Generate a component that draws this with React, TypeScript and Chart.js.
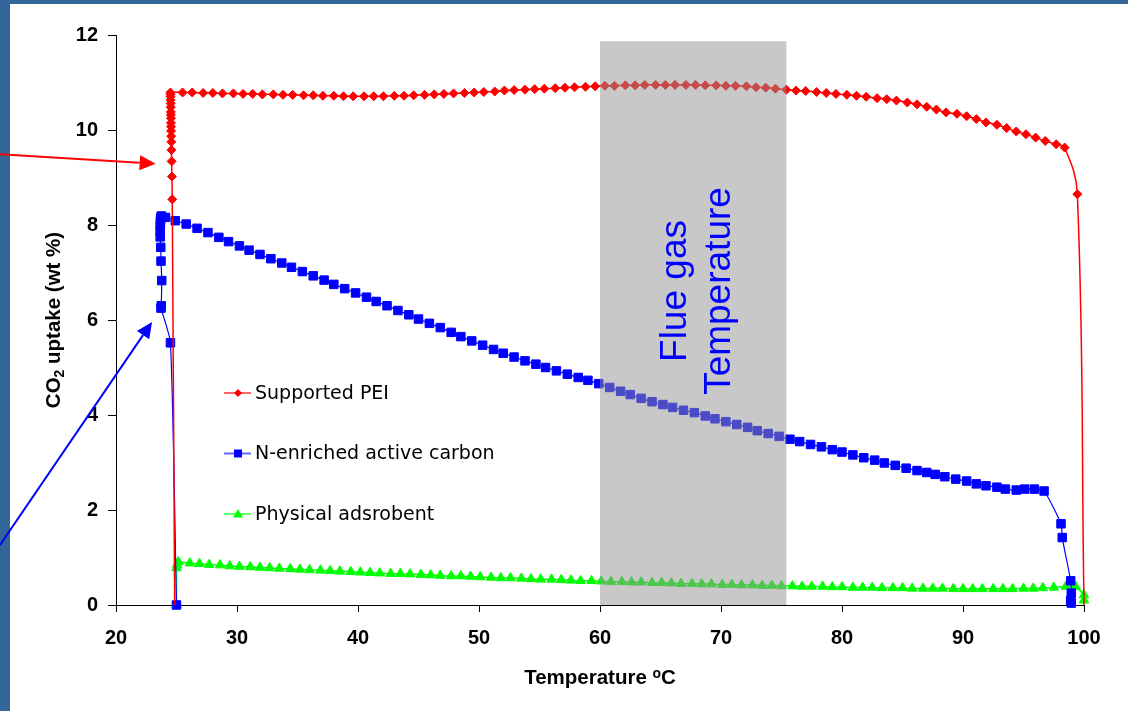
import React, { useEffect, useRef } from "react";
import { Chart, registerables } from "chart.js";

Chart.register(...registerables);

// ---------------- DATA ----------------
const SERIES_NAMES = ["Supported PEI", "N-enriched active carbon", "Physical adsrobent"];

// Supported PEI (first and last points carry no marker)
const PEI_X = [
  24.85, 24.65, 24.62, 24.6, 24.58, 24.57, 24.56, 24.55, 24.55, 24.54, 24.54, 24.53, 24.53, 24.52, 24.52, 24.51, 24.51, 24.5, 24.5,
  25.5, 26.3, 27.2, 28.0, 28.8, 29.7, 30.5, 31.3, 32.1, 33.0, 33.8, 34.6, 35.5, 36.3, 37.1, 38.0, 38.8, 39.6,
  40.5, 41.3, 42.1, 43.0, 43.8, 44.6, 45.5, 46.3, 47.1, 47.9, 48.8, 49.6, 50.4, 51.3, 52.1, 52.9, 53.8, 54.6,
  55.4, 56.3, 57.1, 57.9, 58.8, 59.6, 60.4, 61.2, 62.1, 62.9, 63.7, 64.6, 65.4, 66.2, 67.1, 67.9, 68.7, 69.6,
  70.4, 71.2, 72.1, 72.9, 73.7, 74.5, 75.4, 76.2, 77.0, 77.9, 78.7, 79.5, 80.4, 81.2, 82.0, 82.9, 83.7, 84.5,
  85.4, 86.2, 87.0, 87.8, 88.6, 89.5, 90.3, 91.1, 91.9, 92.8, 93.6, 94.4, 95.2, 96.0, 96.8, 97.7, 98.4,
  99.45, 100.0,
];
const PEI_Y = [
  0, 8.54, 9.02, 9.34, 9.58, 9.75, 9.87, 9.98, 10.07, 10.15, 10.25, 10.32, 10.38, 10.48, 10.56, 10.63, 10.7, 10.75, 10.79,
  10.79, 10.79, 10.78, 10.78, 10.77, 10.77, 10.76, 10.76, 10.75, 10.75, 10.74, 10.74, 10.73, 10.73, 10.72, 10.72, 10.71, 10.71,
  10.71, 10.71, 10.71, 10.72, 10.72, 10.73, 10.74, 10.75, 10.76, 10.77, 10.78, 10.79, 10.8, 10.81, 10.83, 10.84, 10.85, 10.86,
  10.87, 10.88, 10.89, 10.9, 10.91, 10.92, 10.93, 10.93, 10.94, 10.94, 10.95, 10.95, 10.95, 10.95, 10.95, 10.95, 10.94, 10.94,
  10.93, 10.93, 10.92, 10.9, 10.89, 10.87, 10.85, 10.83, 10.82, 10.8, 10.78, 10.76, 10.74, 10.72, 10.7, 10.67, 10.65, 10.62,
  10.58, 10.54, 10.49, 10.43, 10.37, 10.34, 10.29, 10.23, 10.16, 10.11, 10.04, 9.97, 9.91, 9.84, 9.77, 9.7, 9.63,
  8.65, 0,
];

// N-enriched active carbon
const NAC_X = [
  25.0, 24.5, 23.72, 23.74, 23.78, 23.72, 23.7, 23.65, 23.65, 23.66, 23.67, 23.68, 23.7, 23.75, 24.09,
  24.9, 25.8, 26.7, 27.6, 28.5, 29.3, 30.2, 31.0, 31.9, 32.8, 33.7, 34.5, 35.4, 36.3, 37.2, 38.0, 38.9, 39.8,
  40.7, 41.5, 42.4, 43.3, 44.2, 45.0, 45.9, 46.8, 47.7, 48.5, 49.4, 50.3, 51.2, 52.0, 52.9, 53.8, 54.7,
  55.5, 56.4, 57.3, 58.2, 59.0, 59.9, 60.8, 61.7, 62.5, 63.4, 64.3, 65.2, 66.0, 66.9, 67.8, 68.7, 69.5,
  70.4, 71.3, 72.2, 73.0, 73.9, 74.8, 75.7, 76.5, 77.4, 78.3, 79.2, 80.0, 80.9, 81.8, 82.7, 83.5, 84.4,
  85.3, 86.2, 87.0, 87.7, 88.5, 89.4, 90.3, 91.1, 91.9, 92.8, 93.5, 94.4, 95.1, 95.9, 96.7,
  98.1, 98.2, 98.9, 98.95, 98.9, 98.95,
];
const NAC_Y = [
  0, 5.52, 6.25, 6.3, 6.83, 7.24, 7.53, 7.75, 7.87, 7.97, 8.05, 8.11, 8.16, 8.19, 8.16,
  8.09, 8.02, 7.93, 7.84, 7.74, 7.65, 7.56, 7.47, 7.38, 7.29, 7.2, 7.11, 7.02, 6.93, 6.84, 6.75, 6.66, 6.57,
  6.48, 6.39, 6.3, 6.2, 6.11, 6.02, 5.93, 5.84, 5.74, 5.65, 5.56, 5.47, 5.38, 5.3, 5.22, 5.14, 5.07,
  5.0, 4.93, 4.86, 4.79, 4.73, 4.66, 4.58, 4.5, 4.43, 4.35, 4.28, 4.22, 4.16, 4.1, 4.05, 3.98, 3.92,
  3.86, 3.8, 3.74, 3.67, 3.61, 3.55, 3.49, 3.44, 3.38, 3.33, 3.27, 3.22, 3.16, 3.1, 3.05, 2.99, 2.94,
  2.88, 2.83, 2.79, 2.75, 2.7, 2.65, 2.61, 2.55, 2.51, 2.48, 2.44, 2.42, 2.44, 2.44, 2.4,
  1.71, 1.42, 0.51, 0.25, 0.1, 0.04,
];

// Physical adsorbent
const PHY_X = [
  25.0, 25.0, 25.05, 25.15,
  26.1, 26.9, 27.7, 28.6, 29.4, 30.2, 31.1, 31.9, 32.7, 33.5, 34.4, 35.2, 36.0, 36.9, 37.7, 38.5, 39.4,
  40.2, 41.0, 41.8, 42.7, 43.5, 44.3, 45.2, 46.0, 46.8, 47.7, 48.5, 49.3, 50.1, 51.0, 51.8, 52.6, 53.5, 54.3,
  55.1, 56.0, 56.8, 57.6, 58.4, 59.3, 60.1, 60.9, 61.8, 62.6, 63.4, 64.3, 65.1, 65.9, 66.7, 67.6, 68.4, 69.2,
  70.1, 70.9, 71.7, 72.6, 73.4, 74.2, 75.0, 75.9, 76.7, 77.5, 78.4, 79.2, 80.0, 80.9, 81.7, 82.5, 83.3, 84.2,
  85.0, 85.8, 86.7, 87.5, 88.3, 89.2, 90.0, 90.8, 91.6, 92.5, 93.3, 94.1, 95.0, 95.8, 96.6, 97.5, 98.5, 99.3,
  100.0, 100.0,
];
const PHY_Y = [
  0, 0.78, 0.85, 0.91,
  0.88, 0.87, 0.85, 0.84, 0.82, 0.81, 0.8, 0.79, 0.78, 0.77, 0.76, 0.75, 0.74, 0.73, 0.72, 0.71, 0.7,
  0.69, 0.68, 0.67, 0.66, 0.66, 0.65, 0.64, 0.63, 0.62, 0.61, 0.61, 0.6, 0.59, 0.58, 0.57, 0.57, 0.56, 0.55,
  0.54, 0.54, 0.53, 0.52, 0.51, 0.51, 0.5, 0.49, 0.49, 0.48, 0.48, 0.47, 0.47, 0.46, 0.45, 0.45, 0.44, 0.44,
  0.43, 0.43, 0.42, 0.42, 0.41, 0.41, 0.4, 0.4, 0.39, 0.39, 0.39, 0.38, 0.38, 0.37, 0.37, 0.37, 0.36, 0.36,
  0.36, 0.35, 0.35, 0.35, 0.35, 0.34, 0.34, 0.34, 0.34, 0.34, 0.34, 0.34, 0.35, 0.35, 0.36, 0.37, 0.39, 0.39,
  0.21, 0.1,
];

const X_RANGE = [20, 100];
const X_STEP = 10;
const Y_RANGE = [0, 12];
const Y_STEP = 2;

const X_TITLE = ["Temperature ", "o", "C"];
const Y_TITLE = ["CO", "2", " uptake (wt %)"];

// Flue gas band
const SHADE_X = [60, 75.4];
const SHADE_TOP = 11.87;
const SHADE_LABEL = ["Flue gas", "Temperature"];

// annotation arrows [x, y] in data units: tail -> tip
const ARROW_PEI = [[10.4, 9.49], [23.28, 9.29]];
const ARROW_NAC = [[10.4, 1.26], [22.98, 5.96]];

const RED = "#ff0000";
const BLUE = "#0000ff";
const GREEN = "#00ff00";
const FONT = '"Liberation Sans", Arial, sans-serif';

function zip(xs: number[], ys: number[]) {
  return xs.map((x, i) => ({ x, y: ys[i] }));
}

function drawMarker(ctx: CanvasRenderingContext2D, style: string, x: number, y: number, r: number, color: string) {
  ctx.save();
  ctx.fillStyle = color;
  ctx.beginPath();
  if (style === "rectRot") {
    ctx.moveTo(x, y - r);
    ctx.lineTo(x + r, y);
    ctx.lineTo(x, y + r);
    ctx.lineTo(x - r, y);
  } else if (style === "rect") {
    ctx.rect(x - r, y - r, 2 * r, 2 * r);
  } else {
    const h = r * 1.7;
    ctx.moveTo(x, y - h * 0.6);
    ctx.lineTo(x + r, y + h * 0.4);
    ctx.lineTo(x - r, y + h * 0.4);
  }
  ctx.closePath();
  ctx.fill();
  ctx.restore();
}

function drawArrow(ctx: CanvasRenderingContext2D, x0: number, y0: number, x1: number, y1: number, color: string) {
  const ang = Math.atan2(y1 - y0, x1 - x0);
  const hl = 16, hw = 7.5;
  const bx = x1 - hl * Math.cos(ang), by = y1 - hl * Math.sin(ang);
  ctx.save();
  ctx.strokeStyle = color;
  ctx.fillStyle = color;
  ctx.lineWidth = 2;
  ctx.beginPath();
  ctx.moveTo(x0, y0);
  ctx.lineTo(bx, by);
  ctx.stroke();
  ctx.beginPath();
  ctx.moveTo(x1, y1);
  ctx.lineTo(bx + hw * Math.sin(ang), by - hw * Math.cos(ang));
  ctx.lineTo(bx - hw * Math.sin(ang), by + hw * Math.cos(ang));
  ctx.closePath();
  ctx.fill();
  ctx.restore();
}

const framePlugin = {
  id: "frame",
  beforeDraw(chart: any) {
    const { ctx, width, height } = chart;
    ctx.save();
    ctx.fillStyle = "#336699";
    ctx.fillRect(0, 0, width, height);
    ctx.fillStyle = "#ffffff";
    ctx.fillRect(10, 4, width - 10, height - 4);
    ctx.restore();
  },
};

const overlayPlugin = {
  id: "overlay",
  afterDatasetsDraw(chart: any) {
    const { ctx, chartArea } = chart;
    const xs = chart.scales.x, ys = chart.scales.y;
    // shaded band
    const x0 = xs.getPixelForValue(SHADE_X[0]);
    const x1 = xs.getPixelForValue(SHADE_X[1]);
    const yt = ys.getPixelForValue(SHADE_TOP);
    ctx.save();
    ctx.fillStyle = "rgba(147,147,147,0.51)";
    ctx.fillRect(x0, yt, x1 - x0, chartArea.bottom - yt);
    ctx.restore();

    // band label
    const cx = (x0 + x1) / 2;
    const cy = 291;
    ctx.save();
    ctx.fillStyle = BLUE;
    ctx.font = `37px ${FONT}`;
    ctx.textAlign = "center";
    ctx.textBaseline = "alphabetic";
    SHADE_LABEL.forEach((t, i) => {
      ctx.save();
      ctx.translate(cx - 7 + i * 44, cy);
      ctx.rotate(-Math.PI / 2);
      ctx.fillText(t, 0, 0);
      ctx.restore();
    });
    ctx.restore();
  },
  afterDraw(chart: any) {
    const { ctx } = chart;
    const xs = chart.scales.x, ys = chart.scales.y;

    // legend
    const styles = ["rectRot", "rect", "triangle"];
    const colors = [RED, BLUE, GREEN];
    const lineCols = ["rgba(255,0,0,0.6)", "rgba(0,0,255,0.6)", "rgba(0,255,0,0.6)"];
    const sizes = [4, 4, 5];
    SERIES_NAMES.forEach((name, i) => {
      const y = 393 + i * 60.5;
      ctx.save();
      ctx.strokeStyle = lineCols[i];
      ctx.lineWidth = 2;
      ctx.beginPath();
      ctx.moveTo(224, y);
      ctx.lineTo(251, y);
      ctx.stroke();
      ctx.restore();
      drawMarker(ctx, styles[i], 238, y, sizes[i], colors[i]);
      ctx.save();
      ctx.fillStyle = "#000";
      ctx.font = `19px "DejaVu Sans", sans-serif`;
      ctx.textAlign = "left";
      ctx.textBaseline = "middle";
      ctx.fillText(name, 255, y + 1);
      ctx.restore();
    });

    // arrows
    drawArrow(ctx, xs.getPixelForValue(ARROW_PEI[0][0]), ys.getPixelForValue(ARROW_PEI[0][1]),
      xs.getPixelForValue(ARROW_PEI[1][0]), ys.getPixelForValue(ARROW_PEI[1][1]), RED);
    drawArrow(ctx, xs.getPixelForValue(ARROW_NAC[0][0]), ys.getPixelForValue(ARROW_NAC[0][1]),
      xs.getPixelForValue(ARROW_NAC[1][0]), ys.getPixelForValue(ARROW_NAC[1][1]), BLUE);

    // x title with superscript
    ctx.save();
    ctx.fillStyle = "#000";
    ctx.textBaseline = "alphabetic";
    ctx.textAlign = "left";
    const big = `bold 20.5px ${FONT}`, small = `bold 14px ${FONT}`;
    ctx.font = big;
    const w0 = ctx.measureText(X_TITLE[0]).width;
    const w2 = ctx.measureText(X_TITLE[2]).width;
    ctx.font = small;
    const w1 = ctx.measureText(X_TITLE[1]).width;
    const xcx = (xs.left + xs.right) / 2;
    const sx = xcx - (w0 + w1 + w2) / 2;
    const by = 684;
    ctx.font = big;
    ctx.fillText(X_TITLE[0], sx, by);
    ctx.font = small;
    ctx.fillText(X_TITLE[1], sx + w0, by - 6);
    ctx.font = big;
    ctx.fillText(X_TITLE[2], sx + w0 + w1, by);
    ctx.restore();

    // y title with subscript
    ctx.save();
    ctx.fillStyle = "#000";
    ctx.textBaseline = "alphabetic";
    ctx.textAlign = "left";
    ctx.font = big;
    const a0 = ctx.measureText(Y_TITLE[0]).width;
    const a2 = ctx.measureText(Y_TITLE[2]).width;
    ctx.font = small;
    const a1 = ctx.measureText(Y_TITLE[1]).width;
    const tot = a0 + a1 + a2;
    ctx.translate(60, 320);
    ctx.rotate(-Math.PI / 2);
    const s = -tot / 2;
    ctx.font = big;
    ctx.fillText(Y_TITLE[0], s, 0);
    ctx.font = small;
    ctx.fillText(Y_TITLE[1], s + a0, 4);
    ctx.font = big;
    ctx.fillText(Y_TITLE[2], s + a0 + a1, 0);
    ctx.restore();
  },
};

export default function App() {
  const ref = useRef<HTMLCanvasElement | null>(null);

  useEffect(() => {
    if (!ref.current) return;
    const tickFont = { family: FONT, size: 20, weight: "bold" as const };
    const chart = new Chart(ref.current, {
      type: "line",
      data: {
        datasets: [
          {
            label: SERIES_NAMES[0],
            data: zip(PEI_X, PEI_Y),
            borderColor: RED,
            backgroundColor: RED,
            borderWidth: 1.5,
            pointStyle: "rectRot",
            pointRadius: (c: any) => (c.dataIndex === 0 || c.dataIndex === PEI_X.length - 1 ? 0 : 4.5),
            pointBorderWidth: 1,
            pointBackgroundColor: RED,
            pointBorderColor: RED,
            tension: 0.4,
            clip: false as any,
          },
          {
            label: SERIES_NAMES[1],
            data: zip(NAC_X, NAC_Y),
            borderColor: BLUE,
            backgroundColor: BLUE,
            borderWidth: 1.2,
            pointStyle: "rect",
            pointRadius: 6,
            pointBorderWidth: 1,
            pointBackgroundColor: BLUE,
            pointBorderColor: BLUE,
            tension: 0.2,
            clip: false as any,
          },
          {
            label: SERIES_NAMES[2],
            data: zip(PHY_X, PHY_Y),
            borderColor: GREEN,
            backgroundColor: GREEN,
            borderWidth: 1.5,
            pointStyle: "triangle",
            pointRadius: 5.5,
            pointBorderWidth: 1,
            pointBackgroundColor: GREEN,
            pointBorderColor: GREEN,
            tension: 0.2,
            clip: false as any,
          },
        ],
      },
      options: {
        animation: false,
        responsive: false,
        devicePixelRatio: 1,
        layout: { padding: { top: 35, right: 44, bottom: 0, left: 0 } },
        plugins: {
          legend: { display: false },
          tooltip: { enabled: false },
          title: { display: false },
        },
        scales: {
          x: {
            type: "linear",
            min: X_RANGE[0],
            max: X_RANGE[1],
            ticks: { stepSize: X_STEP, color: "#000", font: tickFont, padding: 14, maxRotation: 0, autoSkip: false },
            grid: { drawOnChartArea: false, tickLength: 7, color: "#000", tickColor: "#000", tickWidth: 1 },
            border: { color: "#000", width: 1 },
            afterFit: (s: any) => {
              s.height = 106;
            },
          },
          y: {
            type: "linear",
            min: Y_RANGE[0],
            max: Y_RANGE[1],
            ticks: { stepSize: Y_STEP, color: "#000", font: tickFont, padding: 10 },
            grid: { drawOnChartArea: false, tickLength: 8, color: "#000", tickColor: "#000", tickWidth: 1 },
            border: { color: "#000", width: 1 },
            afterFit: (s: any) => {
              s.width = 116;
            },
          },
        },
      },
      plugins: [framePlugin, overlayPlugin],
    } as any);
    return () => chart.destroy();
  }, []);

  return (
    <div style={{ position: "fixed", left: 0, top: 0, width: 1128, height: 711 }}>
      <canvas ref={ref} width={1128} height={711} style={{ display: "block" }} />
    </div>
  );
}
